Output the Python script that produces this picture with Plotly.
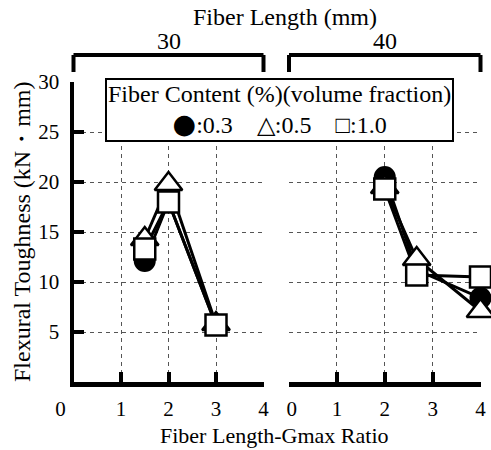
import plotly.graph_objects as go

# ---- data ----
ratio_30 = [1.5, 2.0, 3.0]          # Fiber length 30 mm: Gmax 20, 15, 10
ratio_40 = [2.0, 2.667, 4.0]        # Fiber length 40 mm: Gmax 20, 15, 10
contents = ["0.3", "0.5", "1.0"]
tough_30 = {"0.3": [12.1, 18.0, 5.7], "0.5": [14.3, 19.8, 5.8], "1.0": [13.3, 18.0, 5.7]}
tough_40 = {"0.3": [20.5, 11.2, 8.4], "0.5": [19.5, 12.3, 7.1], "1.0": [19.3, 10.7, 10.5]}
x_ticks = [0, 1, 2, 3, 4]
x_ticktext_left = ["0\u00a0\u00a0\u00a0\u00a0\u00a0", "1", "2", "3", "4"]
x_ticktext_right = ["\u00a00", "1", "2", "3", "4"]
y_ticks = [5, 10, 15, 20, 25, 30]
panel_labels = ["30", "40"]
legend_symbols = ["●", "△", "□"]

W, H = 491, 450
FONT = "Liberation Serif"

def px_x(p):
    return p / W

def px_y(p):
    return 1 - p / H

styles = {
    "0.3": dict(symbol="circle", size=20, color="black", line=dict(color="black", width=2)),
    "0.5": dict(symbol="triangle-up", size=24, color="white", line=dict(color="black", width=2.5)),
    "1.0": dict(symbol="square", size=21, color="white", line=dict(color="black", width=2.5)),
}

fig = go.Figure()
# lines first
for xs, data, xa, ya in [(ratio_30, tough_30, "x", "y"), (ratio_40, tough_40, "x2", "y2")]:
    for c in contents:
        fig.add_trace(go.Scatter(x=xs, y=data[c], mode="lines", xaxis=xa, yaxis=ya,
                                 line=dict(color="black", width=3), showlegend=False,
                                 hoverinfo="skip", cliponaxis=False))
# markers on top
for xs, data, xa, ya in [(ratio_30, tough_30, "x", "y"), (ratio_40, tough_40, "x2", "y2")]:
    for c in contents:
        fig.add_trace(go.Scatter(x=xs, y=data[c], mode="markers", xaxis=xa, yaxis=ya,
                                 marker=styles[c], showlegend=False, name=c,
                                 cliponaxis=False))

grid = dict(showgrid=True, gridcolor="#555", gridwidth=1, griddash="4px,4px", automargin=False)
tickfont = dict(family=FONT, size=21, color="black")

xl = px_x(73.5); xr = px_x(263.5)
x2l = px_x(289); x2r = px_x(480.5)
yb = px_y(382); yt = px_y(82)

fig.update_layout(
    width=W, height=H, margin=dict(l=0, r=0, t=0, b=0, autoexpand=False),
    plot_bgcolor="white", paper_bgcolor="white",
    xaxis=dict(domain=[xl, xr], range=[0, 4], tickvals=x_ticks, ticktext=x_ticktext_left,
               ticks="inside", ticklen=10, tickwidth=4, tickcolor="black",
               showline=True, linewidth=5, linecolor="black", zeroline=False,
               tickfont=tickfont, ticklabelstandoff=4, anchor="y", **grid),
    xaxis2=dict(domain=[x2l, x2r], range=[0, 4], tickvals=x_ticks, ticktext=x_ticktext_right,
                ticks="inside", ticklen=10, tickwidth=4, tickcolor="black",
                showline=True, linewidth=5, linecolor="black", zeroline=False,
                tickfont=tickfont, ticklabelstandoff=4, anchor="y2", **grid),
    yaxis=dict(domain=[yb, yt], range=[0, 30], tickvals=y_ticks,
               ticks="inside", ticklen=10, tickwidth=4, tickcolor="black",
               showline=True, linewidth=4, linecolor="black", zeroline=False,
               tickfont=tickfont, ticklabelstandoff=6, anchor="x", **grid),
    yaxis2=dict(domain=[yb, yt], range=[0, 30], tickvals=y_ticks, showticklabels=False,
                ticks="", showline=False, zeroline=False, anchor="x2", **grid),
)

# top brackets
for xref in ["x domain", "x2 domain"]:
    for (x0, y0, x1, y1) in [(0, 72, 0, 55), (0, 55, 1, 55), (1, 55, 1, 72)]:
        fig.add_shape(type="line", xref=xref, yref="paper",
                      x0=x0, x1=x1, y0=px_y(y0), y1=px_y(y1),
                      line=dict(color="black", width=4))

ann_font = dict(family=FONT, size=24, color="black")
for xref, lab in zip(["x domain", "x2 domain"], panel_labels):
    fig.add_annotation(xref=xref, yref="paper", x=0.5, y=px_y(41), text=lab,
                       showarrow=False, font=ann_font, xanchor="center", yanchor="middle")
fig.add_annotation(xref="paper", yref="paper", x=px_x(285), y=px_y(17),
                   text="Fiber Length (mm)", showarrow=False, font=ann_font,
                   xanchor="center", yanchor="middle")
fig.add_annotation(xref="paper", yref="paper", x=px_x(274.5), y=0,
                   text="Fiber Length-Gmax Ratio", showarrow=False,
                   font=dict(family=FONT, size=22, color="black"),
                   xanchor="center", yanchor="bottom")
fig.add_annotation(xref="paper", yref="paper", x=px_x(22), y=px_y(232),
                   text="Flexural Toughness (kN・mm)", showarrow=False, font=ann_font,
                   textangle=-90, xanchor="center", yanchor="middle")

# legend box
def sym(s):
    if s == "●":
        return '<span style="font-family:DejaVu Sans;font-size:27px">●</span>'
    return s

legend_text = ("Fiber Content (%)(volume fraction)<br>"
               + "\u00a0\u00a0\u00a0\u00a0".join(sym(s) + ":" + c for s, c in zip(legend_symbols, contents)))
fig.add_annotation(xref="paper", yref="paper", x=px_x(279), y=px_y(110.5),
                   text=legend_text, showarrow=False, font=ann_font, align="center",
                   xanchor="center", yanchor="middle", bgcolor="white",
                   bordercolor="black", borderwidth=2, borderpad=1)

fig.write_html("out.html")
